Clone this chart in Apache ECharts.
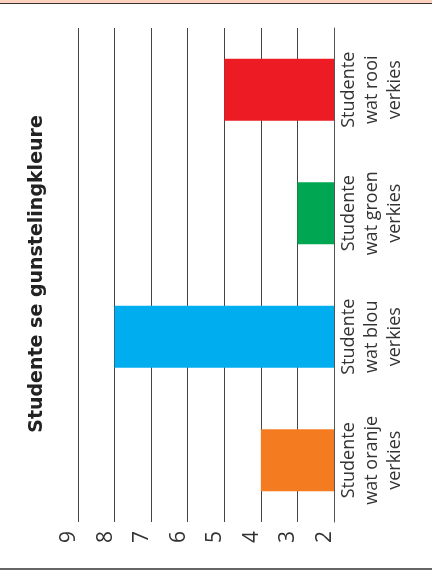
<!DOCTYPE html>
<html>
<head>
<meta charset="utf-8">
<script src="https://cdn.jsdelivr.net/npm/echarts@6/dist/echarts.min.js"></script>
<style>
html,body{margin:0;padding:0;background:#fff;}
#chart{width:432px;height:570px;}
</style>
</head>
<body>
<div id="chart"></div>
<script>
const title = 'Studente se gunstelingkleure';
const categories = ['Studente\nwat oranje\nverkies', 'Studente\nwat blou\nverkies', 'Studente\nwat groen\nverkies', 'Studente\nwat rooi\nverkies'];
const values = [4, 8, 3, 5];
const barColors = ['#F47B20', '#00AEEF', '#00A651', '#ED1C24'];
const valueMin = 2;
const valueMax = 9;
const valueStep = 1;

const chart = echarts.init(document.getElementById('chart'), null, {renderer: 'canvas'});
const font = '"Open Sans", Lato, sans-serif';
chart.setOption({
  animation: false,
  backgroundColor: '#ffffff',
  grid: {left: 78, right: 98, top: 28, bottom: 48, containLabel: false},
  graphic: [
    {type: 'rect', shape: {x: 0, y: 0, width: 432, height: 3}, style: {fill: '#FBD3BF'}},
    {type: 'rect', shape: {x: 0, y: 3, width: 432, height: 1}, style: {fill: '#333333'}},
    {type: 'rect', shape: {x: 0, y: 568, width: 432, height: 2}, style: {fill: '#666666'}},
    {type: 'text', x: 37, y: 274, rotation: Math.PI / 2,
     style: {text: title, font: 'bold 19px "DejaVu Sans", sans-serif', fill: '#222', textAlign: 'center', textVerticalAlign: 'middle'}}
  ],
  xAxis: {
    type: 'value', inverse: true, min: valueMin, max: valueMax, interval: valueStep,
    position: 'bottom',
    axisLine: {show: false}, axisTick: {show: false},
    splitLine: {show: true, lineStyle: {color: '#444', width: 1}},
    axisLabel: {rotate: 90, margin: 9, fontSize: 21, lineHeight: 18, color: '#333', fontFamily: font,
                verticalAlign: 'bottom'}
  },
  yAxis: {
    type: 'category', data: categories, position: 'right',
    axisLine: {show: true, lineStyle: {color: '#555', width: 1}},
    axisTick: {show: false},
    splitLine: {show: false},
    axisLabel: {rotate: 90, margin: 3, fontSize: 18, lineHeight: 23, color: '#333', fontFamily: font,
                align: 'center', verticalAlign: 'top'}
  },
  series: [{
    type: 'bar', data: values.map((v, i) => ({value: v, itemStyle: {color: barColors[i]}})),
    barWidth: 62
  }]
});
</script>
</body>
</html>
